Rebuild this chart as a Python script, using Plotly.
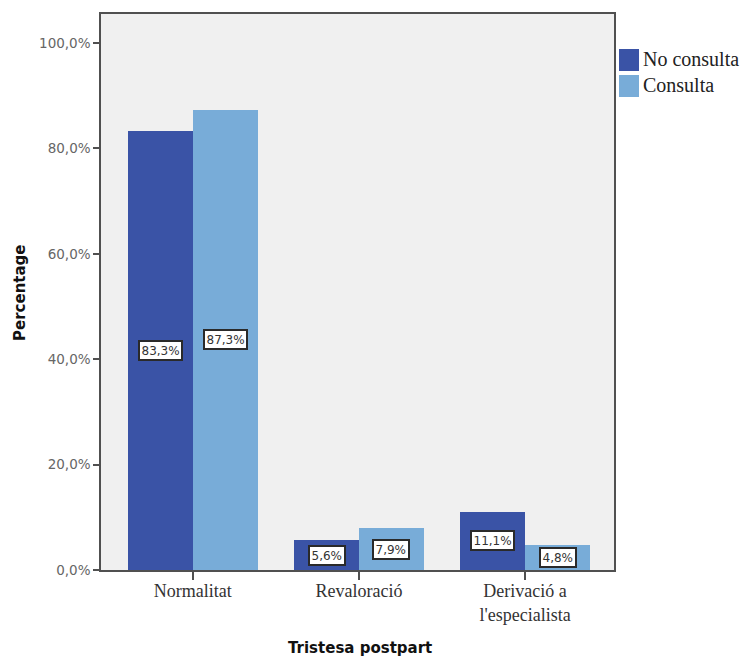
import plotly.graph_objects as go

categories = ["Normalitat", "Revaloració", "Derivació a<br>l'especialista"]
no_consulta = [83.3, 5.6, 11.1]
consulta = [87.3, 7.9, 4.8]
series_names = ["No consulta", "Consulta"]
y_tick_values = [0, 20, 40, 60, 80, 100]
y_tick_labels = ["0,0%", "20,0%", "40,0%", "60,0%", "80,0%", "100,0%"]

DARK = "#3a53a6"
LIGHT = "#78acd8"
AXIS = "#505050"

W, H = 742, 657
ML, MR, MT, MB = 101, 128, 14, 87
PW, PH = W - ML - MR, H - MT - MB

x_idx = list(range(len(categories)))
bar_w = 0.39
offset = bar_w / 2

fig = go.Figure()
series = [
    (series_names[0], no_consulta, DARK, -offset),
    (series_names[1], consulta, LIGHT, offset),
]
for name, vals, color, shift in series:
    fig.add_trace(go.Bar(
        x=[i + shift for i in x_idx], y=vals, width=bar_w, name=name,
        marker=dict(color=color, line=dict(width=0)), showlegend=False,
    ))
    for i, v in zip(x_idx, vals):
        fig.add_annotation(
            x=i + shift, y=v / 2, text=f"{v:.1f}%".replace(".", ","),
            showarrow=False, font=dict(family="DejaVu Sans, Verdana", size=12, color="#333"),
            bgcolor="white", bordercolor="#2a2a2a", borderwidth=2, borderpad=1.5,
        )


def px_x(px):
    return (px - ML) / PW


def px_y(py):
    return (H - MB - py) / PH


# Legend: colour swatches with serif labels to the right of the plot frame
for k, (name, _, color, _) in enumerate(series):
    top = 49 + k * 26
    fig.add_shape(type="rect", xref="paper", yref="paper",
                  x0=px_x(619), x1=px_x(639), y0=px_y(top + 22), y1=px_y(top),
                  fillcolor=color, line=dict(width=0))
    fig.add_annotation(xref="paper", yref="paper", x=px_x(641), y=px_y(top + 10),
                       xanchor="left", yanchor="middle", showarrow=False, text=name,
                       font=dict(family="Liberation Serif, Times New Roman", size=20, color="#222"))

# Axis titles
title_font = dict(family="DejaVu Sans, Verdana", size=15, color="#111")
fig.add_annotation(xref="paper", yref="paper", x=px_x(20), y=px_y(293),
                   xanchor="center", yanchor="middle", textangle=-90, showarrow=False,
                   text="<b>Percentage</b>", font=title_font)
fig.add_annotation(xref="paper", yref="paper", x=px_x(360), y=px_y(648),
                   xanchor="center", yanchor="middle", showarrow=False,
                   text="<b>Tristesa postpart</b>", font=title_font)

fig.update_layout(
    width=W, height=H,
    margin=dict(l=ML, r=MR, t=MT, b=MB, autoexpand=False),
    paper_bgcolor="white", plot_bgcolor="#f0f0f0",
    bargap=0, showlegend=False,
    xaxis=dict(
        range=[-0.552, 2.535], tickvals=x_idx, ticktext=categories, automargin=False,
        ticks="outside", ticklen=8, tickcolor=AXIS, tickwidth=1.5, ticklabelstandoff=-4,
        showline=True, linecolor=AXIS, linewidth=1.5, mirror=True, showgrid=False, zeroline=False,
        tickfont=dict(family="Liberation Serif, Times New Roman", size=18, color="#333"),
    ),
    yaxis=dict(
        range=[0, 105.5], tickvals=y_tick_values, ticktext=y_tick_labels, automargin=False,
        ticks="outside", ticklen=6, tickcolor=AXIS, tickwidth=1.5,
        showline=True, linecolor=AXIS, linewidth=1.5, mirror=True, showgrid=False, zeroline=False,
        tickfont=dict(family="DejaVu Sans, Verdana", size=13.5, color="#666"),
    ),
)

fig.write_html("out.html")
